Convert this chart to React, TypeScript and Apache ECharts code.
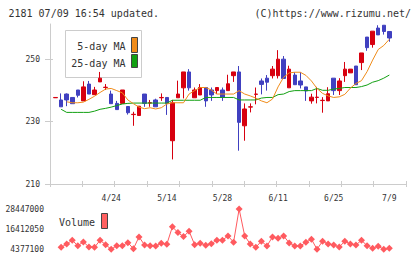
import React, { useEffect, useRef } from 'react';
import * as echarts from 'echarts';

// [open, close, low, high]
const candles: number[][] = [
  [237.7, 237.8, 237.7, 237.8],
  [237.0, 234.8, 234.8, 239.1],
  [238.9, 237.0, 235.0, 239.1],
  [237.8, 235.8, 235.8, 237.8],
  [240.2, 238.5, 237.8, 240.2],
  [236.7, 241.2, 236.7, 243.0],
  [242.1, 238.9, 238.9, 243.1],
  [238.7, 240.2, 238.7, 241.2],
  [242.8, 244.0, 242.8, 246.0],
  [241.0, 241.1, 240.2, 242.1],
  [238.9, 235.8, 235.8, 240.0],
  [235.9, 233.9, 233.9, 236.7],
  [235.9, 240.2, 235.9, 240.2],
  [234.9, 232.9, 232.3, 234.9],
  [232.3, 232.4, 228.7, 233.2],
  [232.0, 235.0, 232.0, 235.0],
  [238.9, 235.9, 234.8, 238.9],
  [236.0, 236.1, 234.8, 237.0],
  [237.0, 234.8, 234.8, 237.4],
  [237.7, 237.8, 236.7, 239.1],
  [237.8, 235.9, 232.2, 237.8],
  [223.9, 236.1, 217.9, 237.0],
  [237.7, 238.9, 237.7, 243.2],
  [240.9, 246.0, 237.5, 246.0],
  [246.0, 240.9, 240.0, 246.9],
  [237.7, 240.2, 237.7, 241.0],
  [238.6, 241.0, 238.6, 242.1],
  [241.0, 236.7, 234.8, 241.0],
  [240.2, 238.6, 236.7, 241.0],
  [240.0, 241.0, 238.9, 241.0],
  [240.2, 237.8, 236.7, 241.0],
  [240.0, 242.2, 240.0, 245.1],
  [244.8, 246.0, 242.8, 246.0],
  [246.0, 229.8, 220.7, 247.9],
  [228.7, 234.1, 223.9, 235.9],
  [234.7, 234.8, 233.0, 235.9],
  [238.8, 238.9, 235.6, 241.0],
  [243.1, 242.0, 238.8, 243.9],
  [244.0, 242.7, 240.0, 245.0],
  [244.8, 246.9, 243.9, 247.9],
  [244.8, 250.1, 243.9, 253.0],
  [250.1, 243.9, 243.9, 251.1],
  [240.9, 246.9, 240.9, 248.0],
  [245.0, 241.9, 241.9, 245.9],
  [243.1, 241.8, 240.7, 245.9],
  [241.2, 239.9, 236.7, 241.2],
  [236.7, 237.9, 235.8, 239.0],
  [237.8, 237.9, 235.9, 241.2],
  [236.8, 236.9, 232.9, 237.9],
  [236.7, 239.0, 236.7, 241.1],
  [244.0, 240.0, 238.6, 244.0],
  [240.0, 243.1, 238.6, 244.0],
  [244.8, 246.9, 242.8, 249.2],
  [245.7, 246.9, 245.7, 246.9],
  [247.9, 241.9, 241.9, 247.9],
  [249.0, 252.1, 246.6, 252.1],
  [257.2, 253.8, 252.8, 257.2],
  [254.8, 259.1, 253.8, 259.1],
  [260.1, 257.9, 257.9, 261.0],
  [261.0, 259.0, 258.0, 261.0],
  [259.0, 256.9, 255.7, 259.0],
];

const ma5: (number | null)[] = [
  null, null, 236.4, 236.1, 236.1, 236.3, 237.2, 238.2, 239.4, 240.5,
  240.7, 240.0, 239.3, 237.0, 235.8, 234.7, 234.2, 234.5, 234.1, 234.5,
  235.7, 236.1, 236.1, 236.1, 238.9, 240.0, 241.0, 241.0, 240.2, 238.9,
  238.9, 238.9, 238.9, 240.0, 238.9, 238.3, 237.6, 236.7, 236.1, 237.3,
  241.2, 244.3, 245.7, 245.9, 245.9, 244.9, 243.1, 240.7, 239.1, 238.3,
  237.8, 238.0, 238.8, 240.8, 242.3, 243.2, 246.1, 249.8, 253.2, 254.5,
  256.5,
];

const ma25: (number | null)[] = [
  null, 234.0, 233.0, 233.0, 233.0, 233.0, 233.0, 233.4, 234.0, 234.3,
  234.7, 235.2, 235.7, 235.9, 236.0, 236.0, 236.0, 236.0, 236.0, 236.0,
  236.0, 236.9, 236.9, 236.9, 236.9, 236.9, 236.9, 237.8, 237.8, 237.8,
  237.8, 237.8, 237.8, 237.0, 237.0, 237.0, 237.0, 237.6, 237.8, 237.8,
  238.7, 238.9, 239.7, 240.0, 240.0, 240.0, 240.0, 240.7, 240.1, 240.1,
  240.5, 240.7, 241.0, 241.0, 241.0, 241.3, 241.8, 242.7, 243.2, 244.0,
  245.0,
];

// volume for candles 1..60
const volumes: number[] = [
  5580000, 7570000, 9790000, 6540000, 8770000, 5760000, 5580000, 9790000, 7150000, 4377100,
  6540000, 6540000, 8350000, 4740000, 11780000, 6960000, 6540000, 6360000, 7990000, 7390000,
  17800000, 14370000, 11960000, 15210000, 7150000, 8050000, 6840000, 7750000, 9790000, 9790000,
  12380000, 8590000, 28447000, 12380000, 7570000, 5580000, 9190000, 6360000, 11780000, 10990000,
  12380000, 8170000, 6360000, 6360000, 8590000, 10390000, 4400000, 9190000, 7570000, 6960000,
  5760000, 9190000, 7570000, 6960000, 9790000, 6540000, 4980000, 6180000, 4410000, 4980000,
];

const xLabelIdx = [10, 20, 30, 40, 50, 60];
const xLabels = ['4/24', '5/14', '5/28', '6/11', '6/25', '7/9'];
const priceTicks = [210, 230, 250];
const volTicks = [4377100, 16412050, 28447000];

const SLOTS = 65;
const MONO = 'DejaVu Sans Mono';
const RED = '#d7000f';
const BLUE = '#4040c0';
const GRAY = '#cccccc';

export default function App() {
  const ref = useRef<HTMLDivElement>(null);
  useEffect(() => {
    if (!ref.current) return;
    const chart = echarts.init(ref.current, undefined, { renderer: 'svg' });
    const cats = Array.from({ length: SLOTS }, (_, i) => String(i));
    const tickAxisBase = {
      type: 'value', gridIndex: 0, min: 0, max: 11, interval: 1, position: 'bottom',
      axisLabel: { show: false }, splitLine: { show: false },
    };
    chart.setOption({
      animation: false,
      backgroundColor: '#ffffff',
      grid: [
        { left: 50, right: 14, top: 24, height: 160 },
        { left: 50, right: 14, top: 209, height: 40.3 },
      ],
      xAxis: [
        {
          type: 'category', gridIndex: 0, data: cats, boundaryGap: false, position: 'bottom',
          axisLine: { show: false, onZero: false }, axisTick: { show: false },
          axisLabel: {
            interval: (idx: number) => xLabelIdx.includes(idx - 1),
            formatter: (_v: string, idx: number) => {
              const k = xLabelIdx.indexOf(idx - 1);
              return k >= 0 ? xLabels[k] : '';
            },
            fontFamily: MONO, fontSize: 8, color: '#333', margin: 10,
          },
          splitLine: { show: false },
        },
        {
          ...tickAxisBase,
          axisLine: { show: true, onZero: false, lineStyle: { color: GRAY, width: 1 } },
          axisTick: { show: true, inside: false, length: 3, lineStyle: { color: GRAY } },
        },
        {
          ...tickAxisBase,
          axisLine: { show: false, onZero: false },
          axisTick: { show: true, inside: true, length: 3, lineStyle: { color: GRAY } },
        },
        {
          type: 'category', gridIndex: 1, data: cats, boundaryGap: false,
          axisLine: { show: false }, axisTick: { show: false }, axisLabel: { show: false },
          splitLine: { show: false },
        },
      ],
      yAxis: [
        {
          type: 'value', gridIndex: 0, min: 210, max: 261.4, position: 'left',
          axisLine: { show: true, onZero: false, lineStyle: { color: GRAY, width: 1 } },
          axisTick: { show: true, inside: false, length: 5, customValues: priceTicks, lineStyle: { color: GRAY } },
          axisLabel: { customValues: priceTicks, fontFamily: MONO, fontSize: 8, color: '#333', margin: 10 },
          splitLine: { show: false },
        },
        {
          type: 'value', gridIndex: 0, min: 210, max: 261.4, position: 'left',
          axisLine: { show: false, onZero: false },
          axisTick: { show: true, inside: true, length: 3, customValues: priceTicks, lineStyle: { color: GRAY } },
          axisLabel: { show: false },
          splitLine: { show: false },
        },
        {
          type: 'value', gridIndex: 1, min: volTicks[0], max: volTicks[2],
          axisLine: { show: false }, axisTick: { show: false },
          axisLabel: {
            customValues: volTicks, formatter: (v: number) => String(v),
            fontFamily: MONO, fontSize: 8, color: '#333', margin: 6,
          },
          splitLine: { show: false },
        },
      ],
      series: [
        {
          type: 'line', xAxisIndex: 0, yAxisIndex: 0, name: '25-day MA',
          data: ma25.map((v, i) => (v == null ? null : [i + 1, v])).filter(Boolean),
          showSymbol: false, symbol: 'none',
          lineStyle: { color: '#12a012', width: 1 },
        },
        {
          type: 'line', xAxisIndex: 0, yAxisIndex: 0, name: '5-day MA',
          data: ma5.map((v, i) => (v == null ? null : [i + 1, v])).filter(Boolean),
          showSymbol: false, symbol: 'none',
          lineStyle: { color: '#f08c1a', width: 1 },
        },
        {
          type: 'candlestick', xAxisIndex: 0, yAxisIndex: 0,
          data: candles.map((c, i) => [i + 1, c[0], c[1], c[2], c[3]]),
          encode: { x: 0, y: [1, 2, 3, 4] },
          barWidth: 4,
          itemStyle: { color: RED, color0: BLUE, borderColor: RED, borderColor0: BLUE, borderWidth: 1 },
        },
        {
          type: 'line', xAxisIndex: 3, yAxisIndex: 2, name: 'Volume',
          data: volumes.map((v, i) => [i + 2, v]),
          symbol: 'diamond', symbolSize: 7, showSymbol: true, showAllSymbol: true,
          itemStyle: { color: '#ff5a5f' },
          lineStyle: { color: '#ff5a5f', width: 1 },
        },
      ],
      graphic: [
        { type: 'text', x: 8.5, y: 13.5, z: 0, style: { text: '2181 07/09 16:54 updated.', fontFamily: MONO, fontSize: 10, fill: '#333', textVerticalAlign: 'middle' } },
        { type: 'text', x: 411, y: 13.5, z: 0, style: { text: '(C)https://www.rizumu.net/', fontFamily: MONO, fontSize: 10, fill: '#333', textAlign: 'right', textVerticalAlign: 'middle' } },
        { type: 'rect', z: 0, shape: { x: 65.5, y: 30.5, width: 76, height: 47 }, style: { fill: '#ffffff', stroke: GRAY, lineWidth: 1 } },
        { type: 'text', x: 125.5, y: 46, z: 0, style: { text: '5-day MA', fontFamily: MONO, fontSize: 10, fill: '#333', textAlign: 'right', textVerticalAlign: 'middle' } },
        { type: 'text', x: 125.5, y: 63.3, z: 0, style: { text: '25-day MA', fontFamily: MONO, fontSize: 10, fill: '#333', textAlign: 'right', textVerticalAlign: 'middle' } },
        { type: 'rect', z: 0, shape: { x: 131.5, y: 37.5, width: 6, height: 15 }, style: { fill: '#f08c1a', stroke: '#444', lineWidth: 1 } },
        { type: 'rect', z: 0, shape: { x: 131.5, y: 54.5, width: 6, height: 13 }, style: { fill: '#12a012', stroke: '#444', lineWidth: 1 } },
        { type: 'text', x: 59, y: 222.3, z: 0, style: { text: 'Volume', fontFamily: MONO, fontSize: 10, fill: '#333', textVerticalAlign: 'middle' } },
        { type: 'rect', z: 0, shape: { x: 101.5, y: 213.5, width: 6, height: 15 }, style: { fill: '#ff6060', stroke: '#444', lineWidth: 1 } },
      ],
    });
    return () => chart.dispose();
  }, []);
  return <div ref={ref} style={{ width: 420, height: 259, position: 'absolute', left: 0, top: 0 }} />;
}
